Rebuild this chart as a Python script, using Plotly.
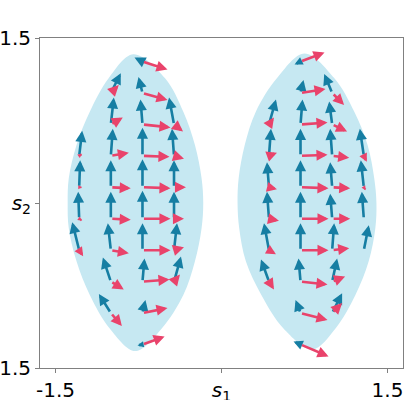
import numpy as np
import plotly.graph_objects as go

# ---------- lens outlines ----------
LEFT_TOP = (-0.797, 1.352)
LEFT_BOTTOM = (-0.78, -1.345)
LEFT_LEVELS = [1.134, 0.83, 0.527, 0.224, 0.0, -0.23, -0.53, -0.836, -1.14]
LEFT_XL = [-1.02, -1.19, -1.31, -1.38, -1.39, -1.38, -1.31, -1.19, -1.01]
LEFT_XR = [-0.51, -0.345, -0.24, -0.18, -0.165, -0.18, -0.24, -0.345, -0.54]

RIGHT_TOP = (0.75, 1.36)
RIGHT_BOTTOM = (0.82, -1.33)
RIGHT_LEVELS = [1.134, 0.83, 0.527, 0.224, 0.0, -0.23, -0.53, -0.836, -1.14]
RIGHT_XL = [0.50, 0.31, 0.21, 0.155, 0.145, 0.16, 0.22, 0.36, 0.56]
RIGHT_XR = [1.02, 1.20, 1.32, 1.38, 1.40, 1.39, 1.33, 1.21, 1.03]

# ---------- arrow bases and vectors, left lens ----------
L_X = [-0.714, -1.0, -0.714, -1.0, -0.714, -0.429, -1.286, -1.0, -0.714, -0.429,
       -1.286, -1.0, -0.714, -0.429, -1.286, -1.0, -0.714, -0.429, -1.286, -1.0,
       -0.714, -0.429, -1.0, -0.714, -0.429, -1.0, -0.714, -0.714]
L_Y = [1.286, 1.0, 1.0, 0.714, 0.714, 0.714, 0.429, 0.429, 0.429, 0.429,
       0.143, 0.143, 0.143, 0.143, -0.143, -0.143, -0.143, -0.143, -0.429, -0.429,
       -0.429, -0.429, -0.714, -0.714, -0.714, -1.0, -1.0, -1.286]
L_BU = [-0.072, 0.09, -0.036, 0.027, -0.018, -0.045, 0.027, 0.018, 0.0, -0.018,
        0.009, 0.0, 0.0, 0.0, -0.009, 0.0, 0.0, 0.0, -0.063, -0.027,
        0.0, 0.027, -0.072, 0.018, 0.063, -0.108, 0.027, -0.045]
L_BV = [0.036, 0.18, 0.145, 0.245, 0.227, 0.245, 0.227, 0.245, 0.255, 0.245,
        0.245, 0.245, 0.255, 0.245, 0.245, 0.245, 0.255, 0.245, 0.255, 0.245,
        0.245, 0.245, 0.218, 0.209, 0.227, 0.173, 0.118, -0.009]
L_PU = [0.226, 0.072, 0.226, 0.108, 0.253, 0.081, 0.027, 0.163, 0.244, 0.09,
        0.027, 0.18, 0.253, 0.108, 0.027, 0.18, 0.253, 0.09, 0.036, 0.163,
        0.253, 0.09, 0.117, 0.244, 0.054, 0.1, 0.226, 0.2]
L_PV = [-0.073, 0.073, -0.064, 0.064, -0.027, -0.064, 0.018, 0.027, -0.009, -0.027,
        0.0, -0.009, -0.009, 0.0, -0.018, -0.009, 0.0, 0.0, -0.055, -0.027,
        0.0, 0.027, -0.073, 0.018, 0.064, -0.118, 0.045, 0.073]

# ---------- arrow bases and vectors, right lens ----------
R_X = [0.714, 0.714, 1.0, 0.429, 0.714, 1.0, 0.429, 0.714, 1.0, 1.286,
       0.429, 0.714, 1.0, 1.286, 0.429, 0.714, 1.0, 1.286, 0.429, 0.714,
       1.0, 1.286, 0.429, 0.714, 1.0, 0.714, 1.0, 0.714]
R_Y = [1.286, 1.0, 1.0, 0.714, 0.714, 0.714, 0.429, 0.429, 0.429, 0.429,
       0.143, 0.143, 0.143, 0.143, -0.143, -0.143, -0.143, -0.143, -0.429, -0.429,
       -0.429, -0.429, -0.714, -0.714, -0.714, -1.0, -1.0, -1.286]
R_BU = [-0.054, 0.027, -0.072, 0.063, 0.018, -0.027, 0.018, 0.0, -0.018, -0.036,
        -0.018, 0.0, -0.018, -0.027, -0.018, 0.0, -0.018, -0.018, -0.045, 0.0,
        0.018, 0.045, -0.072, -0.018, 0.045, -0.045, 0.09, -0.063]
R_BV = [-0.027, 0.118, 0.173, 0.227, 0.227, 0.209, 0.245, 0.245, 0.245, 0.245,
        0.227, 0.245, 0.227, 0.245, 0.245, 0.245, 0.227, 0.245, 0.245, 0.245,
        0.245, 0.227, 0.2, 0.209, 0.209, 0.118, 0.18, 0.027]
R_PU = [0.217, 0.226, 0.108, 0.045, 0.244, 0.135, 0.072, 0.244, 0.154, 0.027,
        0.072, 0.253, 0.163, 0.018, 0.09, 0.253, 0.163, 0.018, 0.063, 0.253,
        0.154, 0.018, 0.045, 0.244, 0.117, 0.244, 0.09, 0.253]
R_PV = [0.082, 0.036, -0.109, 0.064, 0.018, -0.064, 0.027, 0.009, -0.018, -0.055,
        -0.018, -0.009, -0.009, -0.027, -0.018, 0.0, 0.0, -0.009, -0.036, 0.0,
        0.018, 0.018, -0.073, -0.027, 0.045, -0.064, 0.09, -0.109]

TICK_VALS = [-1.5, 0, 1.5]
X_TICK_TEXT = ["-1.5", "<i>s</i><sub>1</sub>", "1.5"]
Y_TICK_TEXT = ["-1.5", "<i>s</i><sub>2</sub>", "1.5"]

LENS_COLOR = "#c6e8f2"
BLUE = "#167ea3"
PINK = "#e9436b"
PX_X, PX_Y = 110.7, 110.0   # pixels per data unit, used for head scaling


def outline(top, bottom, levels, xl, xr):
    xs = [top[0]] + list(xr) + [bottom[0]] + list(xl)[::-1] + [top[0]]
    ys = [top[1]] + list(levels) + [bottom[1]] + list(levels)[::-1] + [top[1]]
    return xs, ys


def arrows(xs, ys, us, vs, color):
    out = []
    for x0, y0, u, v in zip(xs, ys, us, vs):
        length = np.hypot(u * PX_X, v * PX_Y)
        # short arrows get a smaller head, like matplotlib's quiver
        size = max(0.3, 0.85 * min(1.0, length / 9.0))
        out.append(dict(
            x=x0 + u, y=y0 + v, ax=x0, ay=y0,
            xref="x", yref="y", axref="x", ayref="y",
            text="", showarrow=True, arrowhead=2,
            arrowsize=size, arrowwidth=2.6, arrowcolor=color,
            standoff=0, startstandoff=0,
        ))
    return out


fig = go.Figure()
for lens in [(LEFT_TOP, LEFT_BOTTOM, LEFT_LEVELS, LEFT_XL, LEFT_XR),
             (RIGHT_TOP, RIGHT_BOTTOM, RIGHT_LEVELS, RIGHT_XL, RIGHT_XR)]:
    lx, ly = outline(*lens)
    fig.add_trace(go.Scatter(
        x=lx, y=ly, mode="lines", fill="toself", fillcolor=LENS_COLOR,
        line=dict(width=0, color=LENS_COLOR, shape="spline", smoothing=1.0),
        hoverinfo="skip", showlegend=False,
    ))

annotations = (arrows(L_X, L_Y, L_BU, L_BV, BLUE) + arrows(R_X, R_Y, R_BU, R_BV, BLUE)
               + arrows(L_X, L_Y, L_PU, L_PV, PINK) + arrows(R_X, R_Y, R_PU, R_PV, PINK))

axis_style = dict(
    showgrid=False, zeroline=False, showline=True, mirror=True,
    linecolor="#808080", linewidth=1, automargin=False,
    ticks="outside", ticklen=4, tickwidth=1, tickcolor="#808080",
    tickvals=TICK_VALS, tickfont=dict(family="DejaVu Sans", size=20, color="black"),
)

fig.update_layout(
    width=407, height=400,
    margin=dict(l=40, r=4, t=38, b=32, pad=0),
    plot_bgcolor="white", paper_bgcolor="white",
    xaxis=dict(range=[-1.64, 1.64], ticktext=X_TICK_TEXT, **axis_style),
    yaxis=dict(range=[-1.5, 1.5], ticktext=Y_TICK_TEXT, **axis_style),
    annotations=annotations,
    showlegend=False,
)

fig.write_html("out.html", config={"displayModeBar": False},
               post_script="document.body.style.margin='0';")
